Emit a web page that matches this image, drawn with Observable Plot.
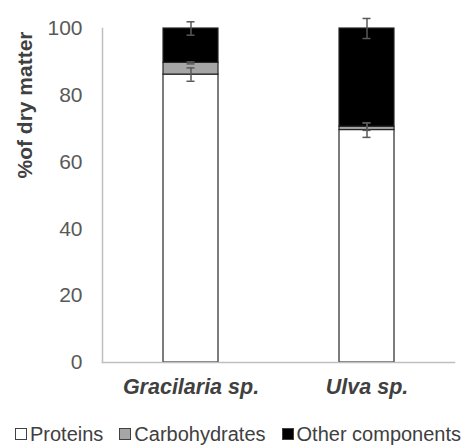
<!DOCTYPE html>
<html>
<head>
<meta charset="utf-8">
<script src="https://cdn.jsdelivr.net/npm/d3@7"></script>
<script src="https://cdn.jsdelivr.net/npm/@observablehq/plot@0.6"></script>
<style>
  html, body { margin: 0; padding: 0; background: #fff; }
  #wrap { position: relative; width: 476px; height: 447px; font-family: "Liberation Sans", Arial, sans-serif; }
  #legend { position: absolute; left: 0; top: 424px; width: 476px; display: flex; justify-content: center; font-size: 20px; line-height: 20px; color: #404040; white-space: nowrap; }
  .item { display: flex; align-items: center; margin: 0 8px; }
  .sw { width: 12px; height: 12px; border: 1px solid #404040; margin-right: 3px; box-sizing: border-box; }
</style>
</head>
<body>
<div id="wrap"><div id="chart"></div><div id="legend"></div></div>
<script>
const samples = ["Gracilaria sp.", "Ulva sp."];
const components = ["Proteins", "Carbohydrates", "Other components"];
const proteins = [86.2, 69.6];
const carbohydrates = [3.5, 1.0];
const others = [10.3, 29.4];
const proteinsErr = [2.0, 2.2];
const carbohydratesErr = [0.3, 1.1];
const othersErr = [2.0, 3.0];
const yTicks = [0, 20, 40, 60, 80, 100];
const colors = ["#ffffff", "#a6a6a6", "#000000"];

const series = [proteins, carbohydrates, others];
const errs = [proteinsErr, carbohydratesErr, othersErr];
const rows = [];
const errRows = [];
samples.forEach((s, i) => {
  let cum = 0;
  components.forEach((c, j) => {
    rows.push({sample: s, component: c, value: series[j][i]});
    cum += series[j][i];
    errRows.push({sample: s, component: c, top: cum, lo: cum - errs[j][i], hi: cum + errs[j][i]});
  });
});

const chart = Plot.plot({
  width: 476,
  height: 420,
  marginLeft: 102,
  marginRight: 22,
  marginTop: 28,
  marginBottom: 58,
  style: {fontFamily: "'Liberation Sans', Arial, sans-serif", background: "#fff"},
  x: {domain: samples, paddingInner: 0.6875, paddingOuter: 0.34375, label: null},
  y: {domain: [0, 100], label: null},
  color: {domain: components, range: colors},
  marks: [
    Plot.barY(rows, {x: "sample", y: "value", fill: "component", stroke: "#262626", strokeWidth: 1.2, order: components}),
    Plot.ruleX(errRows, {x: "sample", y1: "lo", y2: "hi", stroke: "#595959", strokeWidth: 1.5}),
    Plot.tickY(errRows, {x: "sample", y: "lo", stroke: "#595959", strokeWidth: 1.5, insetLeft: 23.5, insetRight: 23.5}),
    Plot.tickY(errRows, {x: "sample", y: "hi", stroke: "#595959", strokeWidth: 1.5, insetLeft: 23.5, insetRight: 23.5}),
    Plot.frame({anchor: "left", stroke: "#bfbfbf", strokeWidth: 1.5}),
    Plot.frame({anchor: "bottom", stroke: "#bfbfbf", strokeWidth: 1.5}),
    Plot.axisY({ticks: yTicks, tickSize: 0, tickPadding: 20, fontSize: 21, fill: "#595959", label: null}),
    Plot.axisX({tickSize: 0, tickPadding: 16, fontSize: 21.5, fontWeight: "bold", fontStyle: "italic", fill: "#404040", label: null}),
    Plot.text(["%of dry matter"], {frameAnchor: "left", rotate: -90, dx: -77, dy: -17, fontSize: 21, fontWeight: "bold", fill: "#404040"})
  ]
});
document.getElementById("chart").appendChild(chart);

const legend = document.getElementById("legend");
components.forEach((c, j) => {
  const it = document.createElement("div");
  it.className = "item";
  const sw = document.createElement("span");
  sw.className = "sw";
  sw.style.background = colors[j];
  const t = document.createElement("span");
  t.textContent = c;
  it.appendChild(sw); it.appendChild(t);
  legend.appendChild(it);
});
</script>
</body>
</html>
